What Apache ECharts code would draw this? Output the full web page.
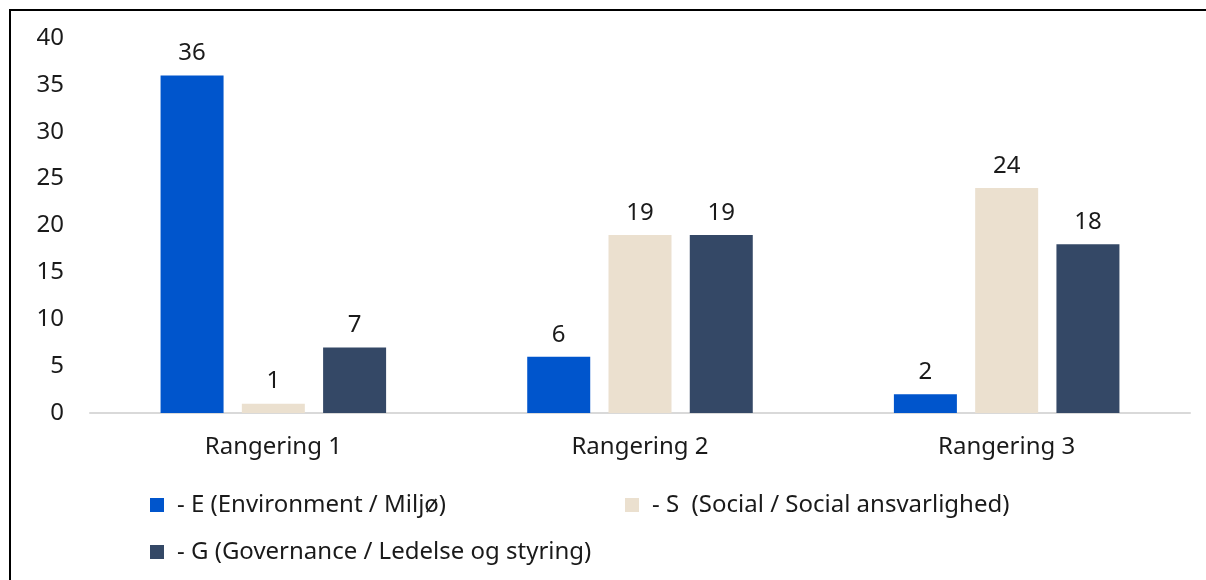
<!DOCTYPE html>
<html lang="da">
<head>
    <meta charset="UTF-8">
    <title>Rangering</title>
    <style>
        body {
            margin: 0;
            overflow: hidden;
            background: #fff;
        }

        .frame {
            position: absolute;
            left: 9px;
            top: 9px;
            width: 1197px;
            height: 571px;
            border-top: 2px solid #000;
            border-left: 2px solid #000;
        }
    </style>
</head>
<body>
    <div class="frame"></div>
    <div id="chart" style="position:absolute;left:0;top:0;width:1206px;height:580px;"></div>
    <script src="https://cdn.jsdelivr.net/npm/echarts@6/dist/echarts.min.js"></script>
    <script>
        // data
        var categories = ['Rangering 1', 'Rangering 2', 'Rangering 3'];
        var seriesNames = [
            '- E (Environment / Miljø)',
            '- S  (Social / Social ansvarlighed)',
            '- G (Governance / Ledelse og styring)'
        ];
        var valuesE = [36, 6, 2];
        var valuesS = [1, 19, 24];
        var valuesG = [7, 19, 18];
        var yTicks = [0, 5, 10, 15, 20, 25, 30, 35, 40];

        var colors = ['#0055cc', '#ebe0cf', '#344866'];
        var font = '"Noto Sans", sans-serif';
        var txt = '#1a1a1a';
        var fs = 24;

        var myChart = echarts.init(document.getElementById('chart'));

        function bar(name, data, color) {
            return {
                name: name,
                type: 'bar',
                data: data,
                barWidth: 63,
                barGap: '29%',
                itemStyle: { color: color },
                label: {
                    show: true,
                    position: 'top',
                    distance: 10,
                    color: txt,
                    fontSize: fs,
                    fontFamily: font
                }
            };
        }

        function legendAt(name, left, top) {
            return {
                data: [name],
                left: left,
                top: top,
                icon: 'rect',
                itemWidth: 14,
                itemHeight: 14,
                selectedMode: false,
                textStyle: {
                    color: txt,
                    fontSize: fs,
                    fontFamily: font,
                    padding: [0, 0, 0, 8]
                }
            };
        }

        var option = {
            animation: false,
            grid: {
                left: 90,
                right: 16,
                top: 38,
                bottom: 167
            },
            legend: [
                legendAt(seriesNames[0], 145, 488),
                legendAt(seriesNames[1], 620, 488),
                legendAt(seriesNames[2], 145, 535)
            ],
            xAxis: {
                type: 'category',
                data: categories,
                axisLine: { lineStyle: { color: '#d9d9d9', width: 2 } },
                axisTick: { show: false },
                axisLabel: {
                    color: txt,
                    fontSize: fs,
                    fontFamily: font,
                    margin: 22
                }
            },
            yAxis: {
                type: 'value',
                min: yTicks[0],
                max: yTicks[yTicks.length - 1],
                interval: 5,
                splitLine: { show: false },
                axisLine: { show: false },
                axisTick: { show: false },
                axisLabel: {
                    color: txt,
                    fontSize: fs,
                    fontFamily: font,
                    margin: 26
                }
            },
            series: [
                bar(seriesNames[0], valuesE, colors[0]),
                bar(seriesNames[1], valuesS, colors[1]),
                bar(seriesNames[2], valuesG, colors[2])
            ]
        };

        myChart.setOption(option);
    </script>
</body>
</html>
